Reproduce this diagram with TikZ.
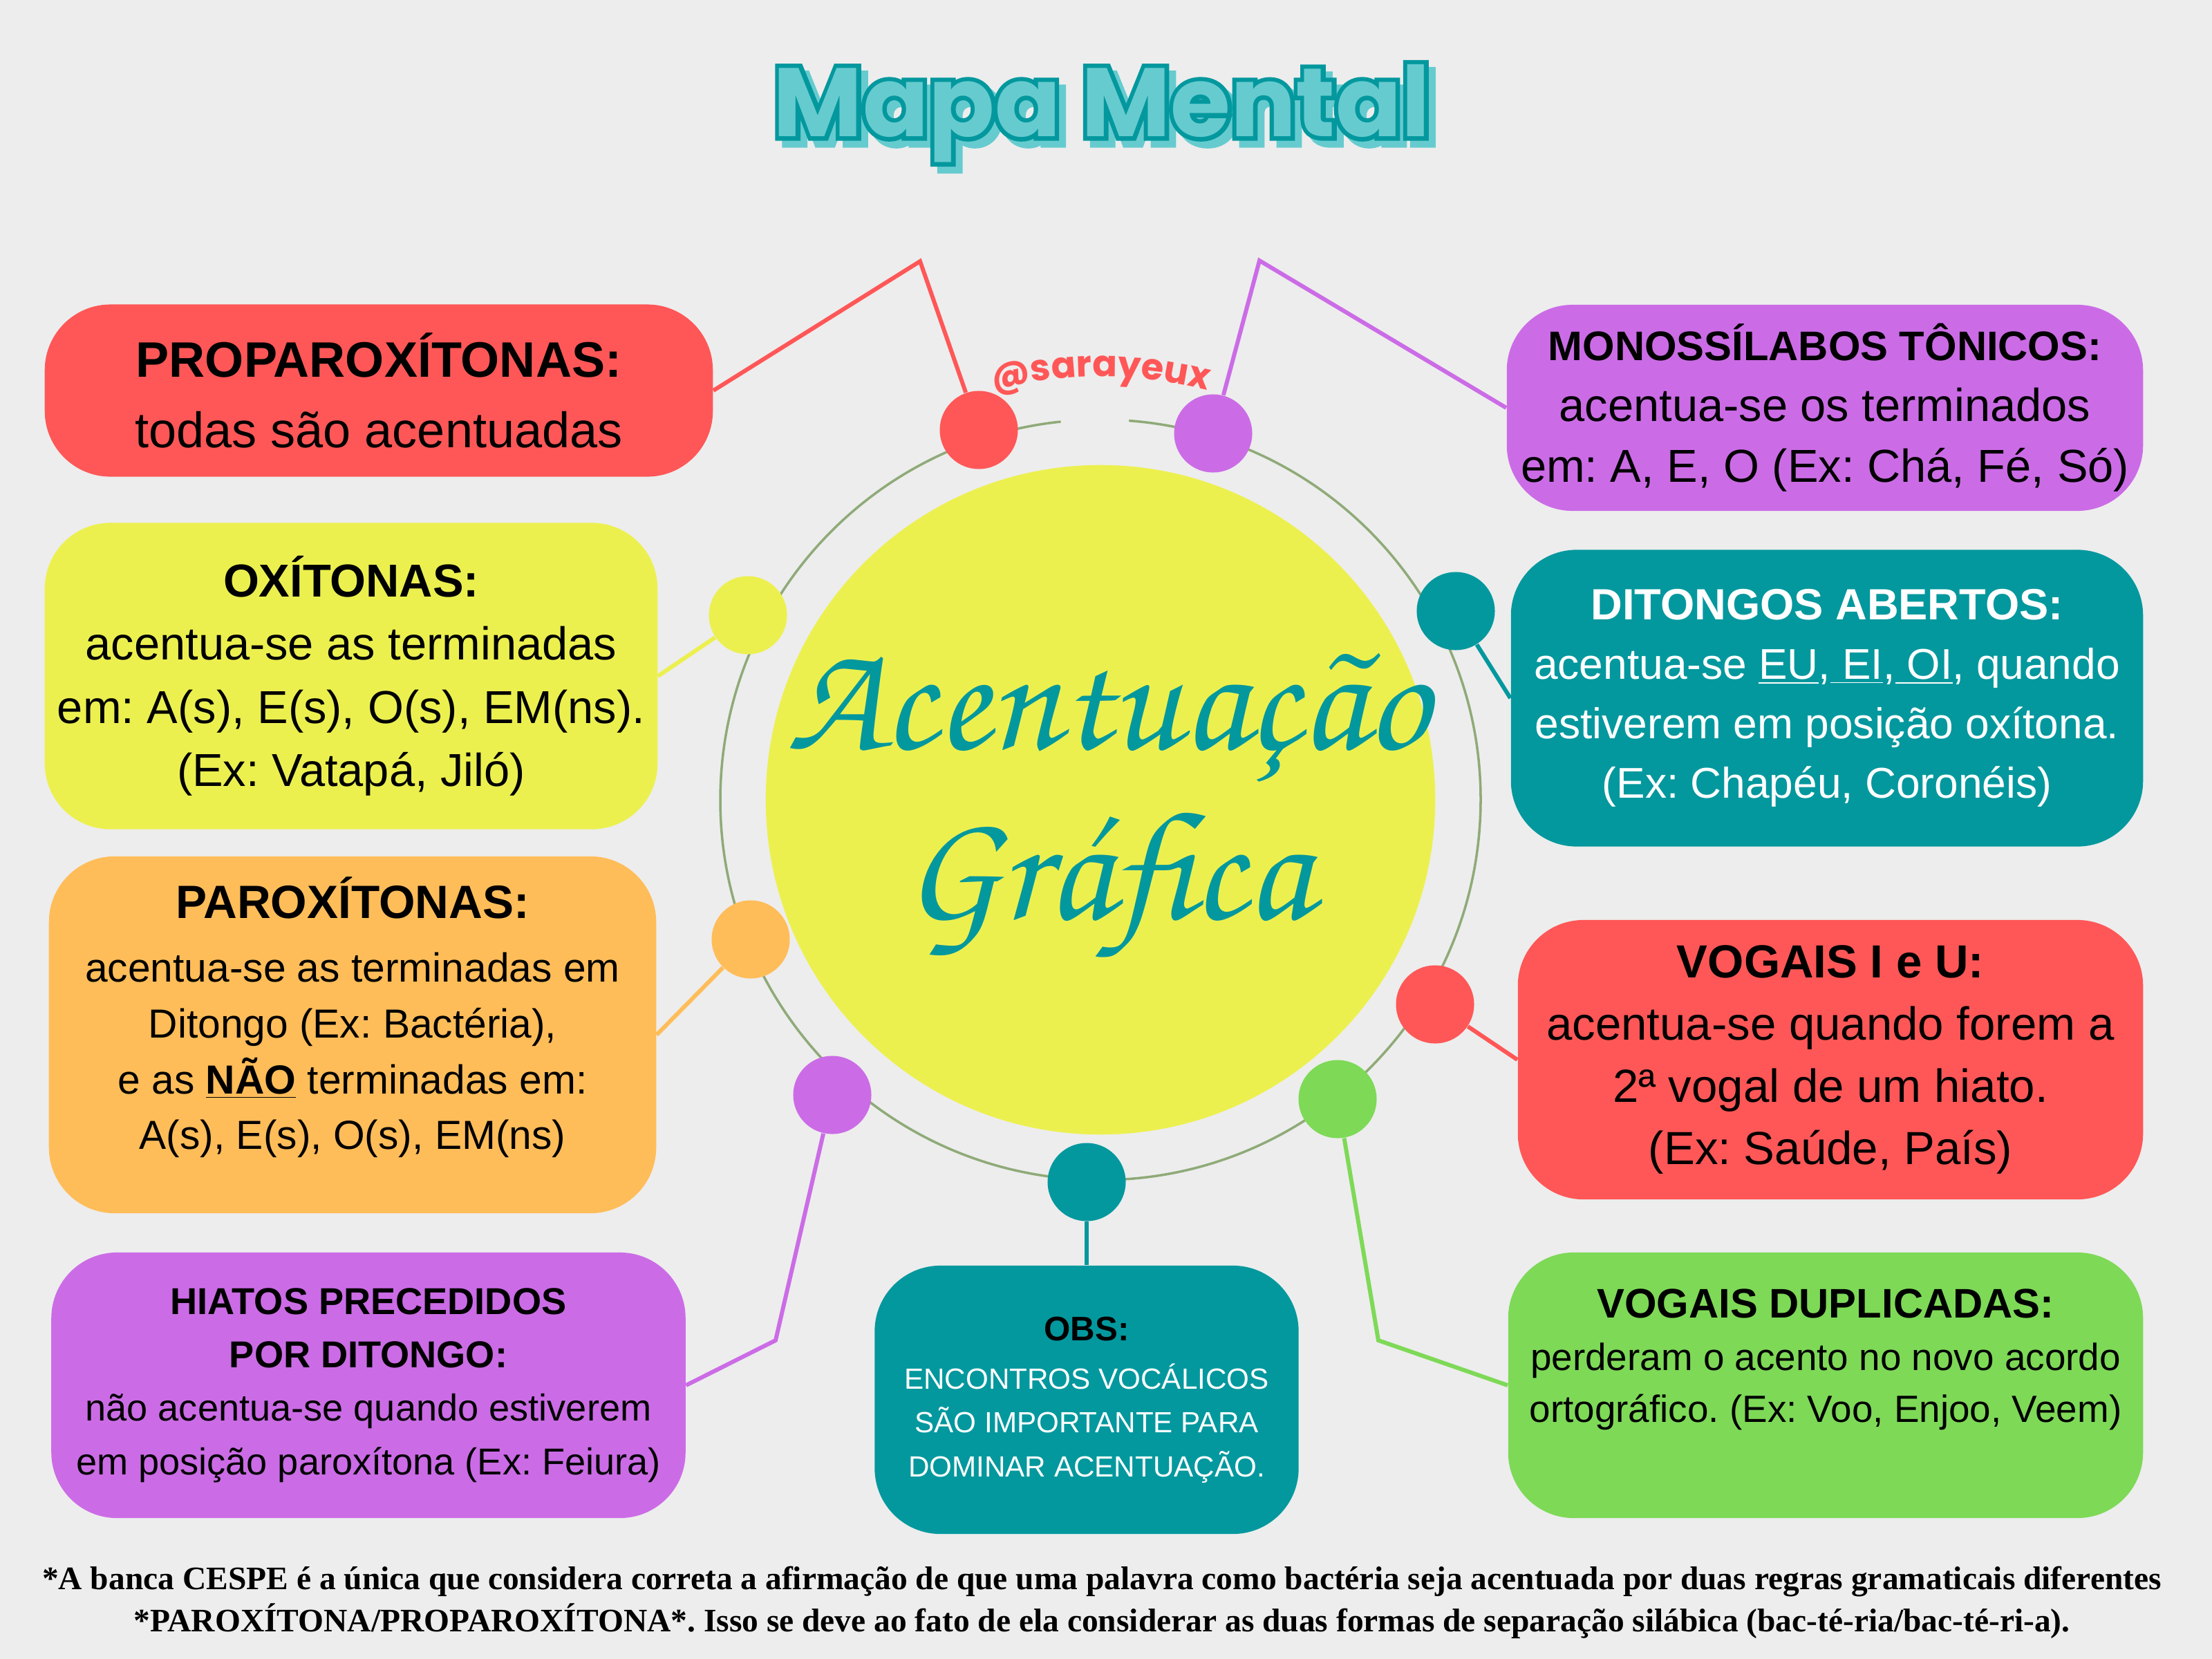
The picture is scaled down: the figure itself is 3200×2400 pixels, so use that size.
\documentclass[tikz,border=0pt]{standalone}
\usepackage{fontspec}
\setmainfont{Liberation Sans}
\newfontfamily\titlefont{Poppins}
\newfontfamily\titleout{Poppins}[BoldFeatures={FakeBold=9}]
\newfontfamily\notefont{Liberation Serif}
\newfontfamily\acfont{TeX Gyre Chorus}
\usetikzlibrary{decorations.text}
\frenchspacing

\definecolor{bgpaper}{RGB}{237,237,237}
\definecolor{mmRed}{RGB}{255,87,87}
\definecolor{mmYellow}{RGB}{236,240,79}
\definecolor{mmOrange}{RGB}{255,189,89}
\definecolor{mmPurple}{RGB}{203,108,230}
\definecolor{mmTeal}{RGB}{3,152,158}
\definecolor{mmGreen}{RGB}{126,217,87}
\definecolor{mmRing}{RGB}{143,170,120}
\definecolor{mmTitle}{RGB}{102,203,207}

\newcommand{\fs}[2]{\fontsize{#1}{#2}\selectfont}

\tikzset{
  pill/.style={rounded corners=0.95cm, inner sep=0pt},
  dot/.style={circle, inner sep=0pt, minimum size=1.13cm},
  link/.style={line width=1.7pt},
  txt/.style={align=center, inner sep=0pt},
}

\begin{document}
\begin{tikzpicture}[x=0.01cm, y=-0.01cm]
    % Paper
    \fill[bgpaper] (0,0) rectangle (3200,2400);
    \useasboundingbox (0,0) rectangle (3200,2400);

    % Title
    \node[txt, font=\titleout\bfseries\fs{40}{48}, text=mmTitle] (title-sh) at (1604,174) {Mapa Mental};
    \node[txt, font=\titleout\bfseries\fs{40}{48}, text=mmTeal] (title-out) at (1594,164) {Mapa Mental};
    \node[txt, font=\titlefont\bfseries\fs{40}{48}, text=mmTitle] (title) at (1594,164) {Mapa Mental};

    % Centre and ring
    \draw[mmRing, line width=1pt] (1592,1157) ++(-85.7:550) arc[start angle=-85.7, end angle=264, radius=550];
    \node[circle, fill=mmYellow, inner sep=0pt, minimum size=9.68cm] (cen) at (1592,1157) {};
    \node[txt, font=\acfont\fs{64}{70}, text=mmTeal] (acg) at (1602,1165) {Acentuação\\Gráfica};

    % Signature
    \path[decorate, decoration={text along path, text align=center, text color=mmRed,
        text={|\titlefont\bfseries\fs{15}{18}|@sarayeux}}]
        (cen.center) ++(-110:612) arc[start angle=-110, end angle=-70, radius=612];

    % Dots on the ring
    \node[dot, fill=mmRed] (d-prop) at (1416,622) {};
    \node[dot, fill=mmPurple] (d-mono) at (1755,627) {};
    \node[dot, fill=mmYellow] (d-oxi) at (1082,890) {};
    \node[dot, fill=mmTeal] (d-dit) at (2106,884) {};
    \node[dot, fill=mmOrange] (d-parox) at (1086,1359) {};
    \node[dot, fill=mmRed] (d-vog) at (2076,1453) {};
    \node[dot, fill=mmPurple] (d-hiato) at (1204,1584) {};
    \node[dot, fill=mmGreen] (d-dup) at (1935,1590) {};
    \node[dot, fill=mmTeal] (d-obs) at (1572,1710) {};

    % Boxes
    \node[pill, fill=mmRed, minimum width=9.66cm, minimum height=2.49cm] (prop) at (548,565) {};
    \node[pill, fill=mmYellow, minimum width=8.86cm, minimum height=4.43cm] (oxi) at (508,978) {};
    \node[pill, fill=mmOrange, minimum width=8.78cm, minimum height=5.16cm] (parox) at (510,1497) {};
    \node[pill, fill=mmPurple, minimum width=9.17cm, minimum height=3.84cm] (hiato) at (533,2004) {};
    \node[pill, fill=mmTeal, minimum width=6.13cm, minimum height=3.88cm] (obs) at (1572,2025) {};
    \node[pill, fill=mmPurple, minimum width=9.20cm, minimum height=2.98cm] (mono) at (2640,590) {};
    \node[pill, fill=mmTeal, minimum width=9.14cm, minimum height=4.29cm] (dit) at (2643,1010) {};
    \node[pill, fill=mmRed, minimum width=9.04cm, minimum height=4.04cm] (vog) at (2648,1533) {};
    \node[pill, fill=mmGreen, minimum width=9.18cm, minimum height=3.84cm] (dup) at (2641,2004) {};

    % Box texts
    \node[txt, font=\fs{20.5}{29}] (t-prop) at (prop) {\textbf{PROPAROXÍTONAS:}\\todas são acentuadas};
    \node[txt, font=\fs{19}{26}] (t-oxi) at (oxi) {\textbf{OXÍTONAS:}\\acentua-se as terminadas\\em: A(s), E(s), O(s), EM(ns).\\(Ex: Vatapá, Jiló)};
    \node[txt, font=\fs{16.7}{23}] (t-parox) at ([yshift=0.25cm]parox.center) {{\fs{19.2}{23}\bfseries PAROXÍTONAS:}\\[3pt]acentua-se as terminadas em\\Ditongo (Ex: Bactéria),\\e as \underline{\textbf{NÃO}} terminadas em:\\A(s), E(s), O(s), EM(ns)};
    \node[txt, font=\fs{15.4}{22}] (t-hiato) at (hiato) {\textbf{HIATOS PRECEDIDOS}\\\textbf{POR DITONGO:}\\não acentua-se quando estiverem\\em posição paroxítona (Ex: Feiura)};
    \node[txt, font=\fs{12}{18}, text=white] (t-obs) at (obs) {{\fs{14}{18}\bfseries\color{black}OBS:}\\[2pt]ENCONTROS VOCÁLICOS\\SÃO IMPORTANTE PARA\\DOMINAR ACENTUAÇÃO.};
    \node[txt, font=\fs{19}{25}] (t-mono) at (mono) {{\fs{17}{25}\bfseries MONOSSÍLABOS TÔNICOS:}\\acentua-se os terminados\\em: A, E, O (Ex: Chá, Fé, Só)};
    \node[txt, font=\fs{17.7}{24.5}, text=white] (t-dit) at (dit) {{\fs{18}{24.5}\bfseries DITONGOS ABERTOS:}\\acentua-se \underline{EU},\underline{\ EI},\underline{\ OI}, quando\\estiverem em posição oxítona.\\(Ex: Chapéu, Coronéis)};
    \node[txt, font=\fs{19.1}{25.6}] (t-vog) at (vog) {\textbf{VOGAIS I e U:}\\acentua-se quando forem a\\2ª vogal de um hiato.\\(Ex: Saúde, País)};
    \node[txt, font=\fs{15.6}{21.5}] (t-dup) at ([yshift=0.37cm]dup.center) {{\fs{17}{21.5}\bfseries VOGAIS DUPLICADAS:}\\perderam o acento no novo acordo\\ortográfico. (Ex: Voo, Enjoo, Veem)};

    % Connectors
    \coordinate (k-prop) at (1331,378);
    \coordinate (k-mono) at (1822,377);
    \coordinate (k-hiato) at (1122,1939);
    \coordinate (k-dup) at (1994,1939);
    \draw[link, mmRed] (prop.east) -- (k-prop) -- (d-prop);
    \draw[link, mmPurple] (d-mono) -- (k-mono) -- (mono.west);
    \draw[link, mmYellow] (oxi.east) -- (d-oxi);
    \draw[link, mmTeal] (d-dit) -- (dit.west);
    \draw[link, mmOrange] (parox.east) -- (d-parox);
    \draw[link, mmRed] (d-vog) -- (vog.west);
    \draw[link, mmPurple] (d-hiato) -- (k-hiato) -- (hiato.east);
    \draw[link, mmGreen] (d-dup) -- (k-dup) -- (dup.west);
    \draw[link, mmTeal] (d-obs) -- (obs);

    % Footnote
    \node[txt, font=\notefont\bfseries\fs{13.5}{17.4}] (note) at (1594,2318) {*A banca CESPE é a única que considera correta a afirmação de que uma palavra como bactéria seja acentuada por duas regras gramaticais diferentes\\*PAROXÍTONA/PROPAROXÍTONA*. Isso se deve ao fato de ela considerar as duas formas de separação silábica (bac-té-ria/bac-té-ri-a).};
\end{tikzpicture}
\end{document}
